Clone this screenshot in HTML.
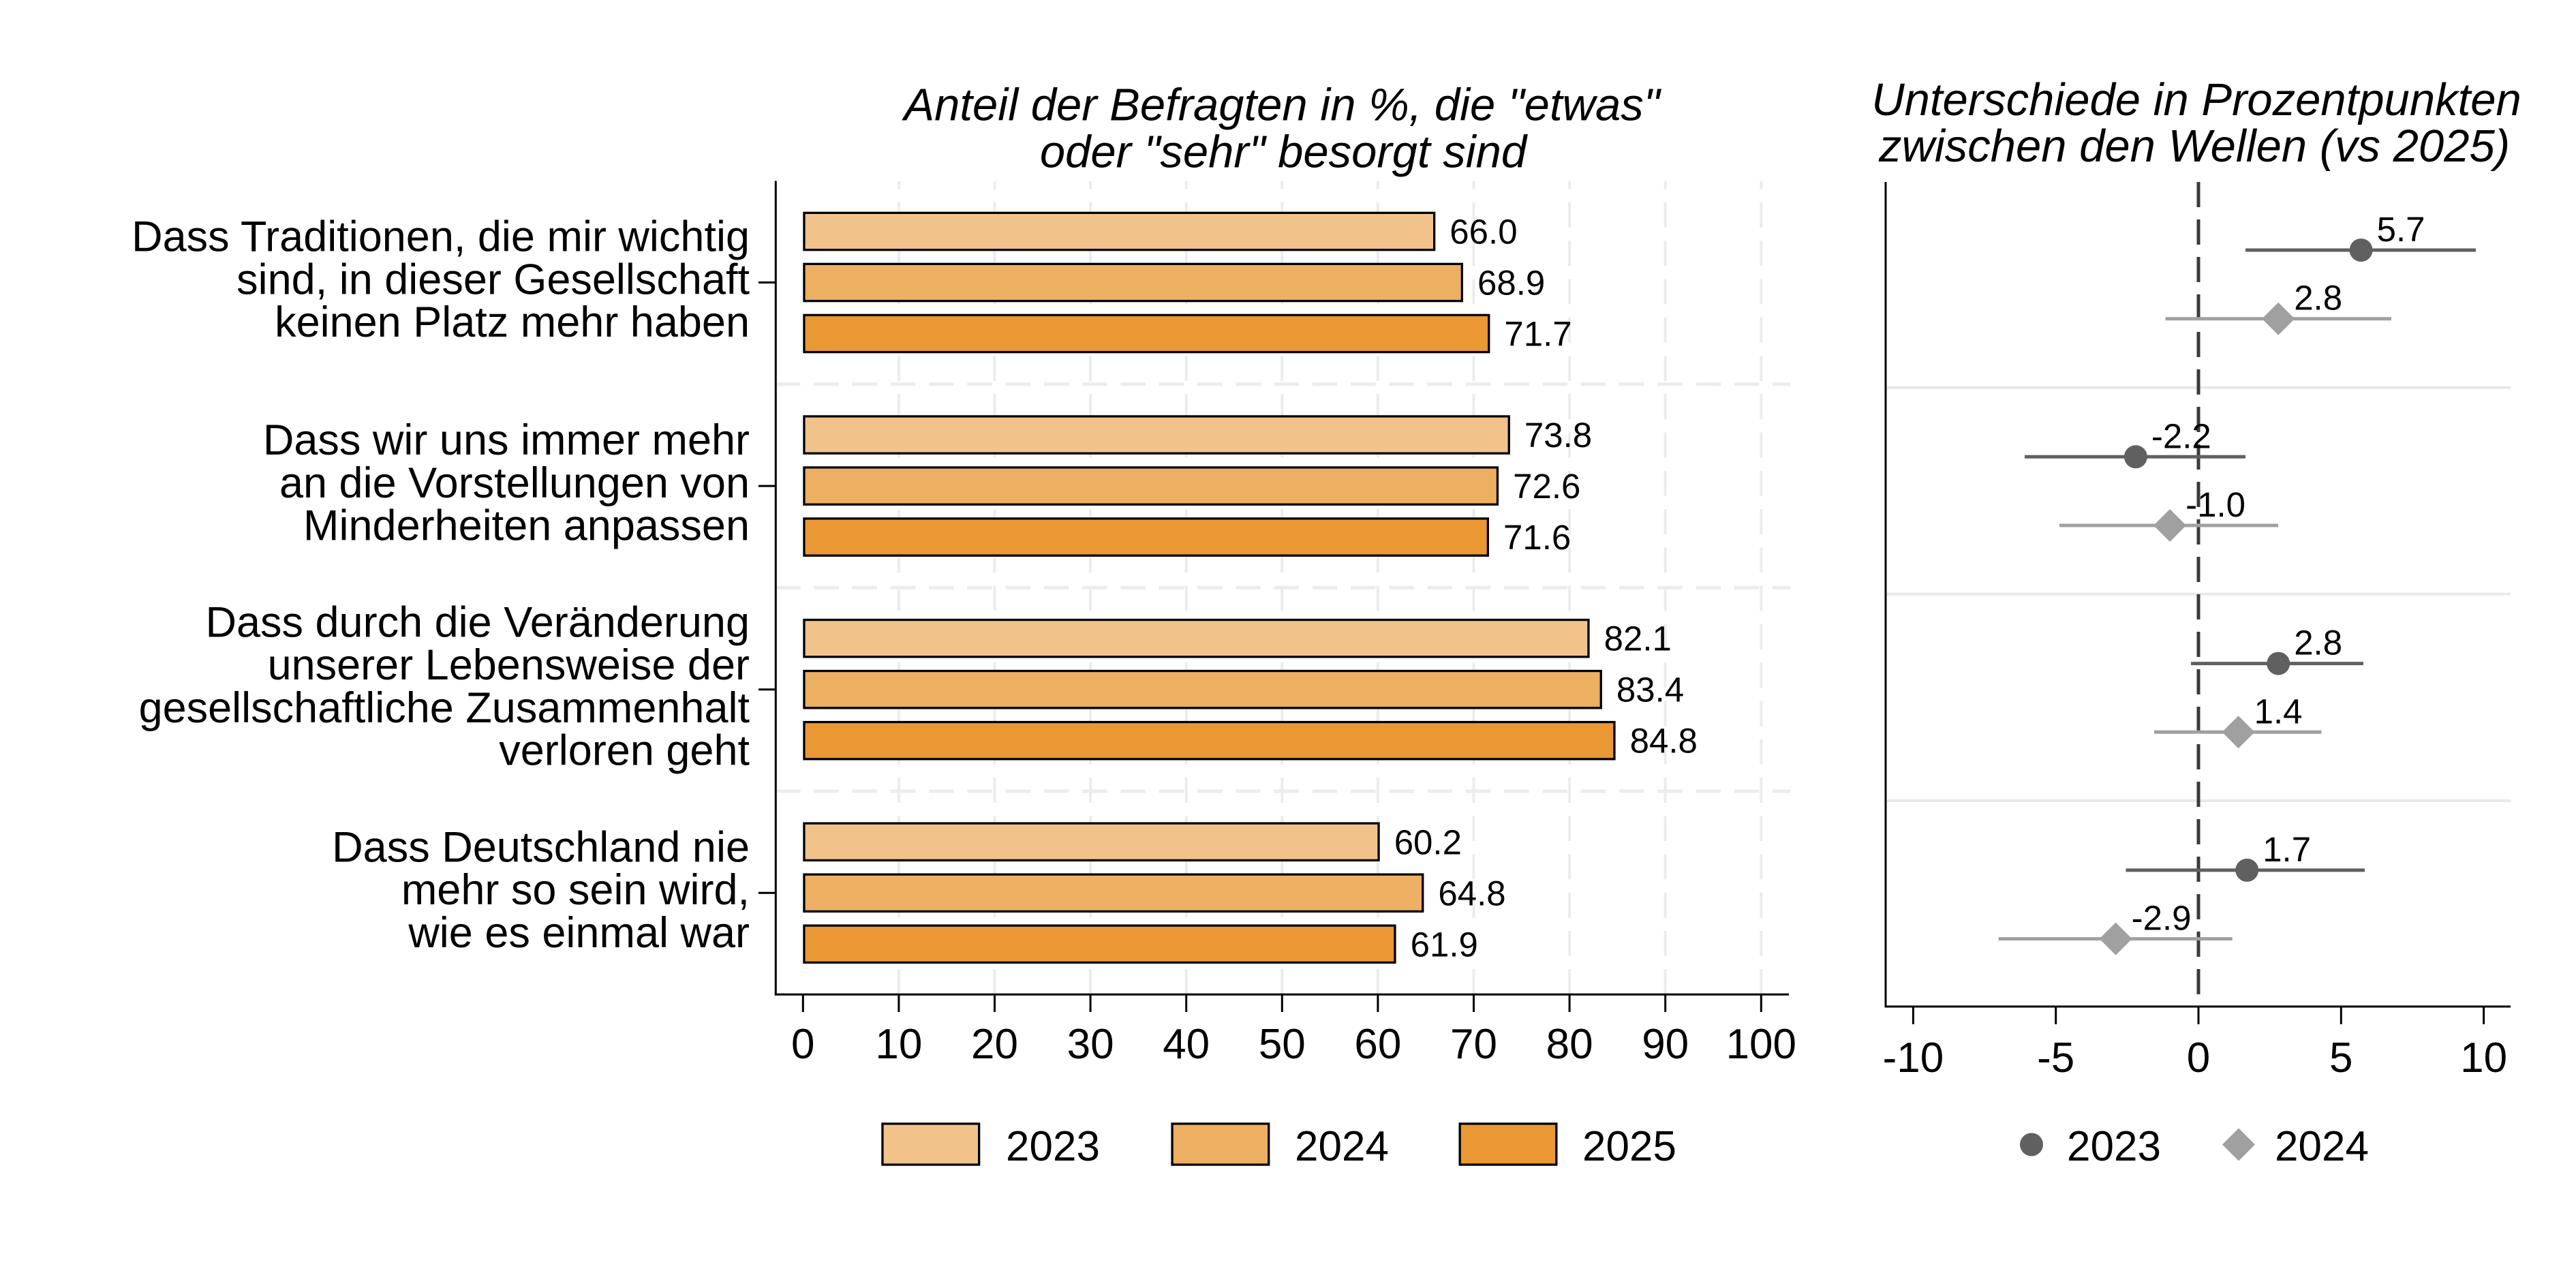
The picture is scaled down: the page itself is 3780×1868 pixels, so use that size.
<!DOCTYPE html>
<html><head><meta charset="utf-8"><style>
html,body{margin:0;padding:0;background:#fff;}
svg{display:block;}
text{font-family:"Liberation Sans",Arial,sans-serif;fill:#000;}
</style></head><body>
<svg xmlns="http://www.w3.org/2000/svg" width="3780" height="1868" viewBox="0 0 3780 1868">
<rect x="0" y="0" width="3780" height="1868" fill="#fff"/>

<!-- LEFT PANEL -->
<!-- vertical dashed gridlines -->
<g stroke="#ececec" stroke-width="4" stroke-dasharray="37 19.27" fill="none">
<line x1="1318.9" y1="1459.3" x2="1318.9" y2="265.5"/>
<line x1="1459.5" y1="1459.3" x2="1459.5" y2="265.5"/>
<line x1="1600.1" y1="1459.3" x2="1600.1" y2="265.5"/>
<line x1="1740.7" y1="1459.3" x2="1740.7" y2="265.5"/>
<line x1="1881.3" y1="1459.3" x2="1881.3" y2="265.5"/>
<line x1="2021.9" y1="1459.3" x2="2021.9" y2="265.5"/>
<line x1="2162.5" y1="1459.3" x2="2162.5" y2="265.5"/>
<line x1="2303.1" y1="1459.3" x2="2303.1" y2="265.5"/>
<line x1="2443.7" y1="1459.3" x2="2443.7" y2="265.5"/>
<line x1="2584.3" y1="1459.3" x2="2584.3" y2="265.5"/>
</g>
<!-- horizontal dashed separators -->
<g stroke="#ececec" stroke-width="5" stroke-dasharray="36.5 19.77" fill="none">
<line x1="1138" y1="563.8" x2="2627" y2="563.8"/>
<line x1="1138" y1="862.4" x2="2627" y2="862.4"/>
<line x1="1138" y1="1161" x2="2627" y2="1161"/>
</g>

<!-- bars -->
<g stroke="#000" stroke-width="3.3">
<rect x="1179.95" y="312.35" width="924.7" height="54.3" fill="#F1C38A"/>
<rect x="1179.95" y="387.35" width="965.4" height="54.3" fill="#EDAF62"/>
<rect x="1179.95" y="462.35" width="1004.8" height="54.3" fill="#E99834"/>

<rect x="1179.95" y="610.95" width="1034.3" height="54.3" fill="#F1C38A"/>
<rect x="1179.95" y="685.95" width="1017.5" height="54.3" fill="#EDAF62"/>
<rect x="1179.95" y="760.95" width="1003.4" height="54.3" fill="#E99834"/>

<rect x="1179.95" y="909.55" width="1151.0" height="54.3" fill="#F1C38A"/>
<rect x="1179.95" y="984.55" width="1169.3" height="54.3" fill="#EDAF62"/>
<rect x="1179.95" y="1059.55" width="1189.0" height="54.3" fill="#E99834"/>

<rect x="1179.95" y="1208.15" width="843.1" height="54.3" fill="#F1C38A"/>
<rect x="1179.95" y="1283.15" width="907.8" height="54.3" fill="#EDAF62"/>
<rect x="1179.95" y="1358.15" width="867.0" height="54.3" fill="#E99834"/>
</g>

<!-- bar value labels -->
<g font-size="51">
<text x="2127.3" y="357.5">66.0</text>
<text x="2168" y="432.5">68.9</text>
<text x="2207.4" y="507.5">71.7</text>
<text x="2236.9" y="656.1">73.8</text>
<text x="2220.1" y="731.1">72.6</text>
<text x="2206" y="806.1">71.6</text>
<text x="2353.6" y="954.7">82.1</text>
<text x="2371.9" y="1029.7">83.4</text>
<text x="2391.6" y="1104.7">84.8</text>
<text x="2045.7" y="1253.3">60.2</text>
<text x="2110.4" y="1328.3">64.8</text>
<text x="2069.6" y="1403.3">61.9</text>
</g>

<!-- axes left -->
<g stroke="#000" stroke-width="3">
<line x1="1138.3" y1="265.5" x2="1138.3" y2="1460.8"/>
<line x1="1136.8" y1="1459.3" x2="2625" y2="1459.3"/>
<line x1="1113" y1="414.5" x2="1138" y2="414.5"/>
<line x1="1113" y1="713.1" x2="1138" y2="713.1"/>
<line x1="1113" y1="1011.7" x2="1138" y2="1011.7"/>
<line x1="1113" y1="1310.3" x2="1138" y2="1310.3"/>
<line x1="1178.3" y1="1459.3" x2="1178.3" y2="1485"/>
<line x1="1318.9" y1="1459.3" x2="1318.9" y2="1485"/>
<line x1="1459.5" y1="1459.3" x2="1459.5" y2="1485"/>
<line x1="1600.1" y1="1459.3" x2="1600.1" y2="1485"/>
<line x1="1740.7" y1="1459.3" x2="1740.7" y2="1485"/>
<line x1="1881.3" y1="1459.3" x2="1881.3" y2="1485"/>
<line x1="2021.9" y1="1459.3" x2="2021.9" y2="1485"/>
<line x1="2162.5" y1="1459.3" x2="2162.5" y2="1485"/>
<line x1="2303.1" y1="1459.3" x2="2303.1" y2="1485"/>
<line x1="2443.7" y1="1459.3" x2="2443.7" y2="1485"/>
<line x1="2584.3" y1="1459.3" x2="2584.3" y2="1485"/>
</g>
<g font-size="62" text-anchor="middle">
<text x="1178.3" y="1553">0</text>
<text x="1318.9" y="1553">10</text>
<text x="1459.5" y="1553">20</text>
<text x="1600.1" y="1553">30</text>
<text x="1740.7" y="1553">40</text>
<text x="1881.3" y="1553">50</text>
<text x="2021.9" y="1553">60</text>
<text x="2162.5" y="1553">70</text>
<text x="2303.1" y="1553">80</text>
<text x="2443.7" y="1553">90</text>
<text x="2584.3" y="1553">100</text>
</g>

<!-- category labels -->
<g font-size="63" text-anchor="end">
<text x="1100" y="368.6">Dass Traditionen, die mir wichtig</text>
<text x="1100" y="431.3">sind, in dieser Gesellschaft</text>
<text x="1100" y="494.0">keinen Platz mehr haben</text>
<text x="1100" y="667.2">Dass wir uns immer mehr</text>
<text x="1100" y="729.9">an die Vorstellungen von</text>
<text x="1100" y="792.6">Minderheiten anpassen</text>
<text x="1100" y="934.5">Dass durch die Veränderung</text>
<text x="1100" y="997.2">unserer Lebensweise der</text>
<text x="1100" y="1059.9">gesellschaftliche Zusammenhalt</text>
<text x="1100" y="1122.6">verloren geht</text>
<text x="1100" y="1264.4">Dass Deutschland nie</text>
<text x="1100" y="1327.1">mehr so sein wird,</text>
<text x="1100" y="1389.8">wie es einmal war</text>
</g>

<!-- left title -->
<g font-size="67" font-style="italic" text-anchor="middle">
<text x="1881" y="176.5">Anteil der Befragten in %, die "etwas"</text>
<text x="1883" y="245.4">oder "sehr" besorgt sind</text>
</g>

<!-- left legend -->
<g stroke="#000" stroke-width="3.3">
<rect x="1294.95" y="1648.95" width="141.7" height="60.1" fill="#F1C38A"/>
<rect x="1720.05" y="1648.95" width="141.7" height="60.1" fill="#EDAF62"/>
<rect x="2142.15" y="1648.95" width="141.7" height="60.1" fill="#E99834"/>
</g>
<g font-size="62">
<text x="1476" y="1703">2023</text>
<text x="1900" y="1703">2024</text>
<text x="2322" y="1703">2025</text>
</g>

<!-- RIGHT PANEL -->
<g stroke="#e8e8e8" stroke-width="4">
<line x1="2769" y1="568.7" x2="3684" y2="568.7"/>
<line x1="2769" y1="871.7" x2="3684" y2="871.7"/>
<line x1="2769" y1="1175" x2="3684" y2="1175"/>
</g>
<line x1="3226" y1="267" x2="3226" y2="1477" stroke="#3a3a3a" stroke-width="5" stroke-dasharray="37 18"/>

<!-- CI lines -->
<g stroke-width="5">
<line x1="3295" y1="367" x2="3633" y2="367" stroke="#606060"/>
<line x1="3177.5" y1="467.7" x2="3509" y2="467.7" stroke="#a0a0a0"/>
<line x1="2971" y1="670.3" x2="3295" y2="670.3" stroke="#606060"/>
<line x1="3022" y1="771" x2="3343" y2="771" stroke="#a0a0a0"/>
<line x1="3215" y1="973.6" x2="3468" y2="973.6" stroke="#606060"/>
<line x1="3161" y1="1074.3" x2="3406.5" y2="1074.3" stroke="#a0a0a0"/>
<line x1="3119.5" y1="1276.9" x2="3470" y2="1276.9" stroke="#606060"/>
<line x1="2932.6" y1="1377.6" x2="3275.7" y2="1377.6" stroke="#a0a0a0"/>
</g>
<!-- markers -->
<g fill="#606060">
<circle cx="3464.6" cy="367" r="17"/>
<circle cx="3133.9" cy="670.3" r="17"/>
<circle cx="3343.2" cy="973.6" r="17"/>
<circle cx="3297.2" cy="1276.9" r="17"/>
</g>
<g fill="#a0a0a0">
<polygon points="3343.2,443.7 3367.2,467.7 3343.2,491.7 3319.2,467.7"/>
<polygon points="3184.1,747 3208.1,771 3184.1,795 3160.1,771"/>
<polygon points="3284.6,1050.3 3308.6,1074.3 3284.6,1098.3 3260.6,1074.3"/>
<polygon points="3104.6,1353.6 3128.6,1377.6 3104.6,1401.6 3080.6,1377.6"/>
</g>
<g font-size="51">
<text x="3487.6" y="354">5.7</text>
<text x="3366.2" y="454.7">2.8</text>
<text x="3156.9" y="657.3">-2.2</text>
<text x="3207.1" y="758">-1.0</text>
<text x="3366.2" y="960.6">2.8</text>
<text x="3307.6" y="1061.3">1.4</text>
<text x="3320.2" y="1263.9">1.7</text>
<text x="3127.6" y="1364.6">-2.9</text>
</g>

<!-- right axes -->
<g stroke="#000" stroke-width="3">
<line x1="2767" y1="267" x2="2767" y2="1478.5"/>
<line x1="2765.5" y1="1477" x2="3684" y2="1477"/>
<line x1="2807.4" y1="1477" x2="2807.4" y2="1503"/>
<line x1="3016.7" y1="1477" x2="3016.7" y2="1503"/>
<line x1="3226" y1="1477" x2="3226" y2="1503"/>
<line x1="3435.3" y1="1477" x2="3435.3" y2="1503"/>
<line x1="3644.6" y1="1477" x2="3644.6" y2="1503"/>
</g>
<g font-size="62" text-anchor="middle">
<text x="2807.4" y="1573">-10</text>
<text x="3016.7" y="1573">-5</text>
<text x="3226" y="1573">0</text>
<text x="3435.3" y="1573">5</text>
<text x="3644.6" y="1573">10</text>
</g>

<!-- right title -->
<g font-size="67" font-style="italic" text-anchor="middle">
<text x="3223" y="169">Unterschiede in Prozentpunkten</text>
<text x="3220" y="237">zwischen den Wellen (vs 2025)</text>
</g>

<!-- right legend -->
<circle cx="2981" cy="1679.5" r="17" fill="#606060"/>
<text x="3033" y="1703" font-size="62">2023</text>
<polygon points="3285,1655.5 3309,1679.5 3285,1703.5 3261,1679.5" fill="#a0a0a0"/>
<text x="3338" y="1703" font-size="62">2024</text>
</svg>
</body></html>
